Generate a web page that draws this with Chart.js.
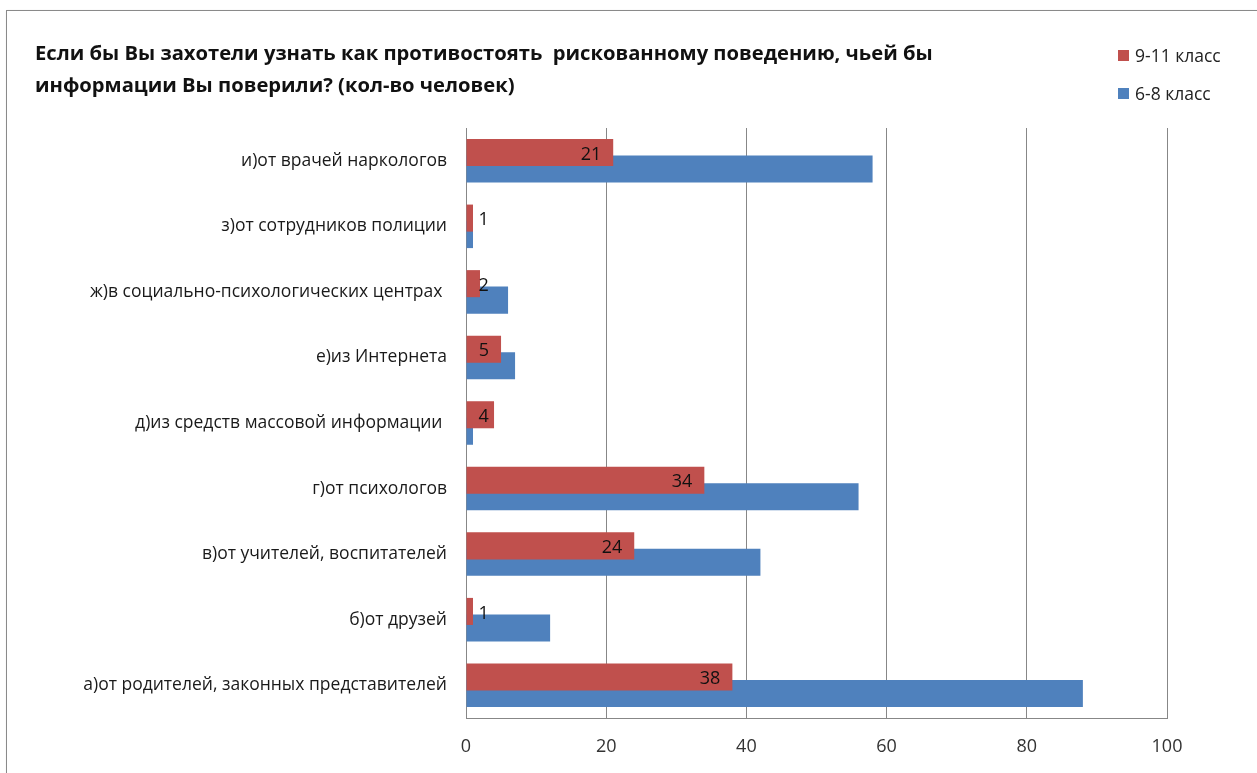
<!DOCTYPE html>
<html>
<head>
<meta charset="utf-8">
<script src="https://cdn.jsdelivr.net/npm/chart.js@4.4.1/dist/chart.umd.min.js"></script>
<style>
  body { margin: 0; background: #fff; }
  #wrap { position: relative; width: 1257px; height: 773px; overflow: hidden; font-family: "Open Sans", sans-serif; }
  #frame { position: absolute; left: 6px; top: 10px; width: 1300px; height: 800px; border: 1px solid #8a8a8a; box-shadow: 1px 1px 2px rgba(0,0,0,0.25); }
  #title { position: absolute; left: 35px; top: 36px; font-weight: bold; font-size: 20.2px; line-height: 32px; color: #111; white-space: pre; }
  #legend { position: absolute; left: 1118px; top: 44px; font-size: 17.5px; color: #222; }
  #legend div { display: flex; align-items: center; height: 22px; margin-bottom: 16px; }
  #legend span.box { display: inline-block; width: 11px; height: 11px; margin-right: 6px; }
  canvas { position: absolute; left: 0; top: 0; }
</style>
</head>
<body>
<div id="wrap">
  <div id="frame"></div>
  <canvas id="chart" width="1257" height="773"></canvas>
  <div id="title">Если бы Вы захотели узнать как противостоять  рискованному поведению, чьей бы
информации Вы поверили? (кол-во человек)</div>
  <div id="legend"></div>
</div>
<script>
// Данные
const categories = [
  'и)от врачей наркологов',
  'з)от сотрудников полиции',
  'ж)в социально-психологических центрах ',
  'е)из Интернета',
  'д)из средств массовой информации ',
  'г)от психологов',
  'в)от учителей, воспитателей',
  'б)от друзей',
  'а)от родителей, законных представителей'
];
const class9to11 = [21, 1, 2, 5, 4, 34, 24, 1, 38];
const class6to8 = [58, 1, 6, 7, 1, 56, 42, 12, 88];
const xTicks = [0, 20, 40, 60, 80, 100];

const RED = '#C0504D';
const BLUE = '#4F81BD';
const FONT = '"Open Sans", sans-serif';

// Подписи значений только у красной серии
const valueLabels = {
  id: 'valueLabels',
  afterDatasetsDraw(chart) {
    const ctx = chart.ctx;
    const meta = chart.getDatasetMeta(0);
    ctx.save();
    ctx.font = '18px ' + FONT;
    ctx.fillStyle = '#111';
    ctx.textBaseline = 'middle';
    meta.data.forEach((bar, i) => {
      const txt = String(chart.data.datasets[0].data[i]);
      const w = ctx.measureText(txt).width;
      let x = bar.x - 12;
      if (x - w < bar.base + 12) {
        ctx.textAlign = 'left';
        x = bar.base + 12;
      } else {
        ctx.textAlign = 'right';
      }
      ctx.fillText(txt, x, bar.y + 2);
    });
    ctx.restore();
  }
};

const chart = new Chart(document.getElementById('chart'), {
  type: 'bar',
  data: {
    labels: categories,
    datasets: [
      { label: '9-11 класс', data: class9to11, backgroundColor: RED },
      { label: '6-8 класс', data: class6to8, backgroundColor: BLUE }
    ]
  },
  options: {
    indexAxis: 'y',
    responsive: false,
    animation: false,
    categoryPercentage: 0.503,
    barPercentage: 1.64,
    layout: { padding: { top: 128, right: 90, left: 0, bottom: 0 } },
    plugins: { legend: { display: false }, tooltip: { enabled: false } },
    scales: {
      x: {
        min: 0, max: 100,
        afterBuildTicks: s => { s.ticks = xTicks.map(v => ({ value: v })); },
        afterFit: s => { s.height = 55; },
        grid: { color: '#878787', drawTicks: false },
        border: { color: '#878787' },
        ticks: { padding: 18, color: '#333', font: { family: FONT, size: 18 } }
      },
      y: {
        afterFit: s => { s.width = 466; },
        grid: { display: false },
        border: { color: '#878787' },
        ticks: { padding: 11, color: '#1a1a1a', font: { family: FONT, size: 17.5 } }
      }
    }
  },
  plugins: [valueLabels]
});

// Легенда
const legend = document.getElementById('legend');
chart.data.datasets.forEach(ds => {
  const row = document.createElement('div');
  row.innerHTML = '<span class="box" style="background:' + ds.backgroundColor + '"></span>' + ds.label;
  legend.appendChild(row);
});
</script>
</body>
</html>
